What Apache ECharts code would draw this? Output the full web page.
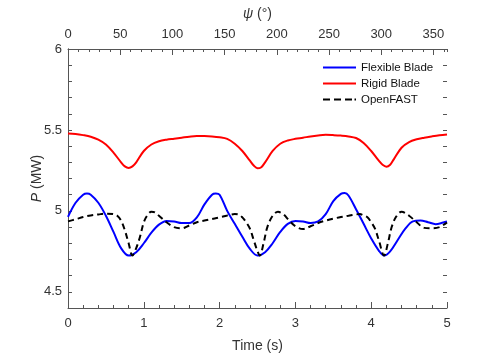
<!DOCTYPE html>
<html>
<head>
<meta charset="utf-8">
<script src="https://cdn.jsdelivr.net/npm/echarts@6/dist/echarts.min.js"></script>
<style>html,body{margin:0;padding:0;background:#fff}#c{width:480px;height:358px}</style>
</head>
<body>
<div id="c"></div>
<script>
// ---- data ----
const seriesNames = ['Flexible Blade', 'Rigid Blade', 'OpenFAST'];
const yTickValues = [4.5, 5, 5.5, 6];

const tRigid = [0,0.1,0.2,0.3,0.4,0.5,0.6,0.7,0.75,0.8,0.85,0.9,1.0,1.1,1.2,1.3,1.4,1.5,1.6,1.7,1.8,1.9,2.0,2.1,2.2,2.3,2.4,2.45,2.5,2.55,2.6,2.7,2.8,2.9,3.0,3.1,3.2,3.3,3.4,3.5,3.6,3.7,3.8,3.9,4.0,4.1,4.15,4.2,4.25,4.3,4.4,4.5,4.6,4.7,4.8,4.9,5.0];
const pRigid = [5.478,5.475,5.468,5.458,5.44,5.41,5.36,5.30,5.275,5.265,5.275,5.30,5.37,5.41,5.43,5.44,5.446,5.452,5.458,5.462,5.462,5.46,5.455,5.445,5.415,5.37,5.31,5.28,5.263,5.27,5.30,5.37,5.415,5.435,5.445,5.452,5.46,5.466,5.47,5.468,5.465,5.46,5.45,5.42,5.37,5.31,5.285,5.273,5.285,5.32,5.39,5.425,5.442,5.452,5.46,5.467,5.472];

const tFlex = [0,0.1,0.2,0.25,0.3,0.4,0.5,0.6,0.7,0.8,0.9,1.0,1.1,1.2,1.3,1.4,1.5,1.6,1.7,1.8,1.9,1.95,2.0,2.1,2.2,2.3,2.4,2.5,2.6,2.7,2.8,2.9,3.0,3.1,3.2,3.3,3.4,3.5,3.6,3.65,3.7,3.8,3.9,4.0,4.1,4.17,4.25,4.35,4.45,4.55,4.65,4.75,4.85,4.95,5.0];
const pFlex = [4.963,5.05,5.10,5.107,5.10,5.05,4.97,4.87,4.77,4.724,4.745,4.80,4.865,4.915,4.938,4.935,4.925,4.925,4.96,5.04,5.10,5.107,5.10,5.00,4.92,4.84,4.765,4.724,4.745,4.80,4.87,4.92,4.938,4.935,4.925,4.935,4.98,5.06,5.105,5.11,5.095,5.01,4.92,4.83,4.755,4.724,4.75,4.82,4.89,4.935,4.94,4.93,4.918,4.928,4.934];

const tOpen = [0,0.1,0.2,0.3,0.4,0.5,0.6,0.65,0.7,0.75,0.8,0.85,0.9,0.95,1.0,1.05,1.1,1.15,1.2,1.3,1.4,1.5,1.6,1.7,1.8,1.9,2.0,2.1,2.2,2.25,2.3,2.35,2.4,2.45,2.5,2.53,2.58,2.63,2.7,2.77,2.85,2.9,3.0,3.1,3.2,3.3,3.4,3.5,3.6,3.7,3.8,3.85,3.9,3.95,4.0,4.05,4.1,4.17,4.22,4.27,4.33,4.4,4.5,4.6,4.7,4.8,4.9,5.0];
const pOpen = [4.935,4.948,4.962,4.972,4.978,4.983,4.98,4.97,4.94,4.88,4.80,4.724,4.77,4.84,4.93,4.975,4.995,4.99,4.97,4.93,4.90,4.892,4.91,4.93,4.94,4.95,4.96,4.972,4.98,4.978,4.96,4.93,4.89,4.82,4.75,4.724,4.80,4.90,4.97,4.995,4.975,4.95,4.905,4.888,4.905,4.925,4.94,4.952,4.962,4.97,4.978,4.98,4.972,4.96,4.93,4.89,4.82,4.724,4.80,4.90,4.965,4.995,4.97,4.93,4.895,4.893,4.90,4.928];

function pairs(t, p) { return t.map((v, i) => [v, p[i]]); }

const FONT = 'Liberation Sans, Arial, Helvetica, sans-serif';
const AX = '#555';
const TXT = '#333';
const ICON_SOLID = 'path://M0,0H33V2H0Z';
const ICON_DASH = 'path://M0,0H7V2H0Z M11,0H18V2H11Z M22,0H29V2H22Z M31.5,0H33V2H31.5Z';

const chart = echarts.init(document.getElementById('c'), null, {renderer: 'canvas'});

const baseAxis = {
  axisLine: {show: true, lineStyle: {color: AX, width: 1}},
  splitLine: {show: false},
};
const tickOnlyY = pos => ({
  type: 'value', position: pos, min: 4.4, max: 6, interval: 0.1,
  axisLine: {show: false}, splitLine: {show: false},
  axisTick: {show: true, inside: true, length: 4, lineStyle: {color: AX}},
  axisLabel: {show: false}
});

chart.setOption({
  animation: false,
  backgroundColor: '#fff',
  textStyle: {fontFamily: FONT},
  grid: {left: 68, right: 33, top: 49, bottom: 49, containLabel: false},
  legend: {
    data: [
      {name: seriesNames[0], icon: ICON_SOLID},
      {name: seriesNames[1], icon: ICON_SOLID},
      {name: seriesNames[2], icon: ICON_DASH}
    ],
    orient: 'vertical',
    left: 323, top: 61, padding: 0,
    itemWidth: 33, itemHeight: 2, itemGap: 3,
    textStyle: {fontFamily: FONT, fontSize: 11.5, color: '#111', lineHeight: 13},
    backgroundColor: 'transparent'
  },
  xAxis: [
    Object.assign({}, baseAxis, {
      type: 'value', position: 'bottom', min: 0, max: 5, interval: 1,
      axisTick: {show: true, inside: true, length: 6, lineStyle: {color: AX}},
      minorTick: {show: true, splitNumber: 5, length: 3, lineStyle: {color: AX}},
      minorSplitLine: {show: false},
      axisLabel: {color: TXT, fontSize: 13, margin: 9, fontFamily: FONT},
      name: 'Time (s)', nameLocation: 'middle', nameGap: 31, nameMoveOverlap: false,
      nameTextStyle: {color: TXT, fontSize: 14, fontFamily: FONT}
    }),
    Object.assign({}, baseAxis, {
      type: 'value', position: 'top', min: 0, max: 363, interval: 50,
      axisTick: {show: true, inside: true, length: 6, lineStyle: {color: AX}},
      axisLabel: {color: TXT, fontSize: 13, margin: 8, fontFamily: FONT, showMaxLabel: false,
        formatter: v => (Math.abs(v % 50) < 1e-6 ? String(v) : '')},
      name: '{i|ψ} (°)', nameLocation: 'middle', nameGap: 28, nameMoveOverlap: false,
      nameTextStyle: {color: TXT, fontSize: 14, fontFamily: FONT,
        rich: {i: {fontStyle: 'italic', fontSize: 14, fontFamily: FONT, color: TXT}}}
    }),
    Object.assign({}, baseAxis, {
      type: 'value', position: 'top', min: 0, max: 363, interval: 10,
      axisLine: {show: false},
      axisTick: {show: true, inside: true, length: 3, lineStyle: {color: AX}},
      axisLabel: {show: false}
    })
  ],
  yAxis: [
    Object.assign({}, baseAxis, {
      type: 'value', position: 'left', min: 4.4, max: 6, interval: 0.1,
      axisTick: {show: false},
      axisLabel: {color: TXT, fontSize: 13, margin: 6, fontFamily: FONT, customValues: yTickValues},
      name: '{i|P} (MW)', nameLocation: 'middle', nameGap: 24, nameMoveOverlap: false,
      nameTextStyle: {color: TXT, fontSize: 14, fontFamily: FONT,
        rich: {i: {fontStyle: 'italic', fontSize: 14, fontFamily: FONT, color: TXT}}}
    }),
    Object.assign({}, baseAxis, {
      type: 'value', position: 'right', min: 4.4, max: 6, interval: 0.1,
      axisTick: {show: false},
      axisLabel: {show: false}
    }),
    tickOnlyY('left'),
    tickOnlyY('right')
  ],
  series: [
    {name: seriesNames[0], type: 'line', xAxisIndex: 0, yAxisIndex: 0, data: pairs(tFlex, pFlex),
     smooth: 0.35, symbol: 'none', lineStyle: {color: '#0000ff', width: 2}, itemStyle: {color: '#0000ff'}, z: 3},
    {name: seriesNames[1], type: 'line', xAxisIndex: 0, yAxisIndex: 0, data: pairs(tRigid, pRigid),
     smooth: 0.35, symbol: 'none', lineStyle: {color: '#ff0000', width: 2}, itemStyle: {color: '#ff0000'}, z: 3},
    {name: seriesNames[2], type: 'line', xAxisIndex: 0, yAxisIndex: 0, data: pairs(tOpen, pOpen),
     smooth: 0.35, symbol: 'none', lineStyle: {color: '#000000', width: 2, type: [6, 4]}, itemStyle: {color: '#000000'}, z: 4}
  ]
});
</script>
</body>
</html>
